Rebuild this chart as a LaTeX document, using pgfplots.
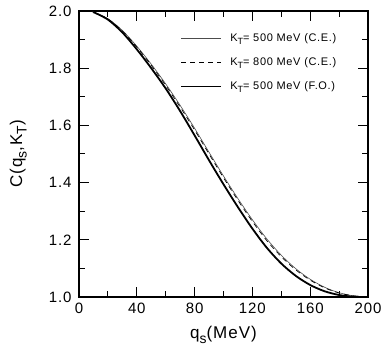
\documentclass[border=0pt]{standalone}
\usepackage{pgfplots}
\pgfplotsset{compat=1.18}
\usepackage{fontspec}
\setmainfont{Liberation Sans}[LetterSpace=6]

\newcommand{\sub}[1]{\raisebox{-0.5ex}{\scalebox{0.82}{#1}}}

\begin{document}
\begin{tikzpicture}
\begin{axis}[
  name=ax,
  scale only axis,
  width=289pt, height=286pt,
  xmin=0, xmax=200, ymin=1.0, ymax=2.0,
  xtick={0,40,...,200},
  ytick={1.0,1.2,...,2.01},
  minor x tick num=1,
  minor y tick num=1,
  tick align=inside,
  major tick length=10pt,
  minor tick length=6pt,
  tick style={black, line width=1pt},
  axis line style={line width=1.3pt},
  /pgf/number format/assume math mode=true,
  yticklabel style={/pgf/number format/fixed, /pgf/number format/precision=1,
    /pgf/number format/fixed zerofill, font=\fontsize{15}{18}\selectfont, xshift=-4pt},
  xticklabel style={font=\fontsize{15}{18}\selectfont, yshift=-2pt},
  xlabel={q\sub{s}(MeV)},
  ylabel={C(q\sub{s},K\sub{T})},
  label style={font=\fontsize{17}{20}\selectfont},
  xlabel style={at={(axis description cs:0.5,-0.133)}, anchor=center},
  ylabel style={at={(axis description cs:-0.21,0.5)}, anchor=center},
  legend style={draw=none, fill=none, at={(0.34,0.935)}, anchor=north west,
    font=\fontsize{11}{13}\selectfont, row sep=10.5pt},
  legend cell align=left,
  legend image code/.code={\draw[#1] (0pt,0pt) -- (40pt,0pt); \path (46pt,0pt);},
]
% thin solid: K_T = 500 MeV (C.E.)
\addplot[black!70, line width=0.6pt, smooth] coordinates {
 (9,1.998) (20,1.973) (30,1.932) (40,1.877) (50,1.814) (60,1.745) (70,1.670)
 (80,1.590) (90,1.506) (100,1.423) (110,1.344) (120,1.270) (130,1.203)
 (140,1.146) (150,1.099) (160,1.062) (170,1.034) (180,1.015) (190,1.004) (200,1.000)
};
% dashed: K_T = 800 MeV (C.E.)
\addplot[black, line width=0.7pt, dash pattern=on 5pt off 4pt, smooth] coordinates {
 (9,1.998) (20,1.972) (30,1.930) (40,1.874) (50,1.810) (60,1.740) (70,1.664)
 (80,1.584) (90,1.500) (100,1.417) (110,1.338) (120,1.264) (130,1.197)
 (140,1.141) (150,1.095) (160,1.059) (170,1.032) (180,1.014) (190,1.004) (200,1.000)
};
% thick: K_T = 500 MeV (F.O.)
\addplot[black, line width=1.8pt, smooth] coordinates {
 (10,1.996) (20,1.970) (30,1.925) (40,1.866) (50,1.800) (60,1.729) (70,1.650)
 (80,1.565) (90,1.478) (100,1.394) (110,1.314) (120,1.239) (130,1.172)
 (140,1.117) (150,1.074) (160,1.042) (170,1.020) (180,1.007) (190,1.001) (200,1.000)
};
\legend{K\sub{T}= 500 MeV (C.E.), K\sub{T}= 800 MeV (C.E.), K\sub{T}= 500 MeV (F.O.)}
\end{axis}
\pgfresetboundingbox
\path[use as bounding box] ([xshift=-79pt,yshift=-55pt]ax.south west) rectangle ([xshift=24pt,yshift=11pt]ax.north east);
\end{tikzpicture}
\end{document}
